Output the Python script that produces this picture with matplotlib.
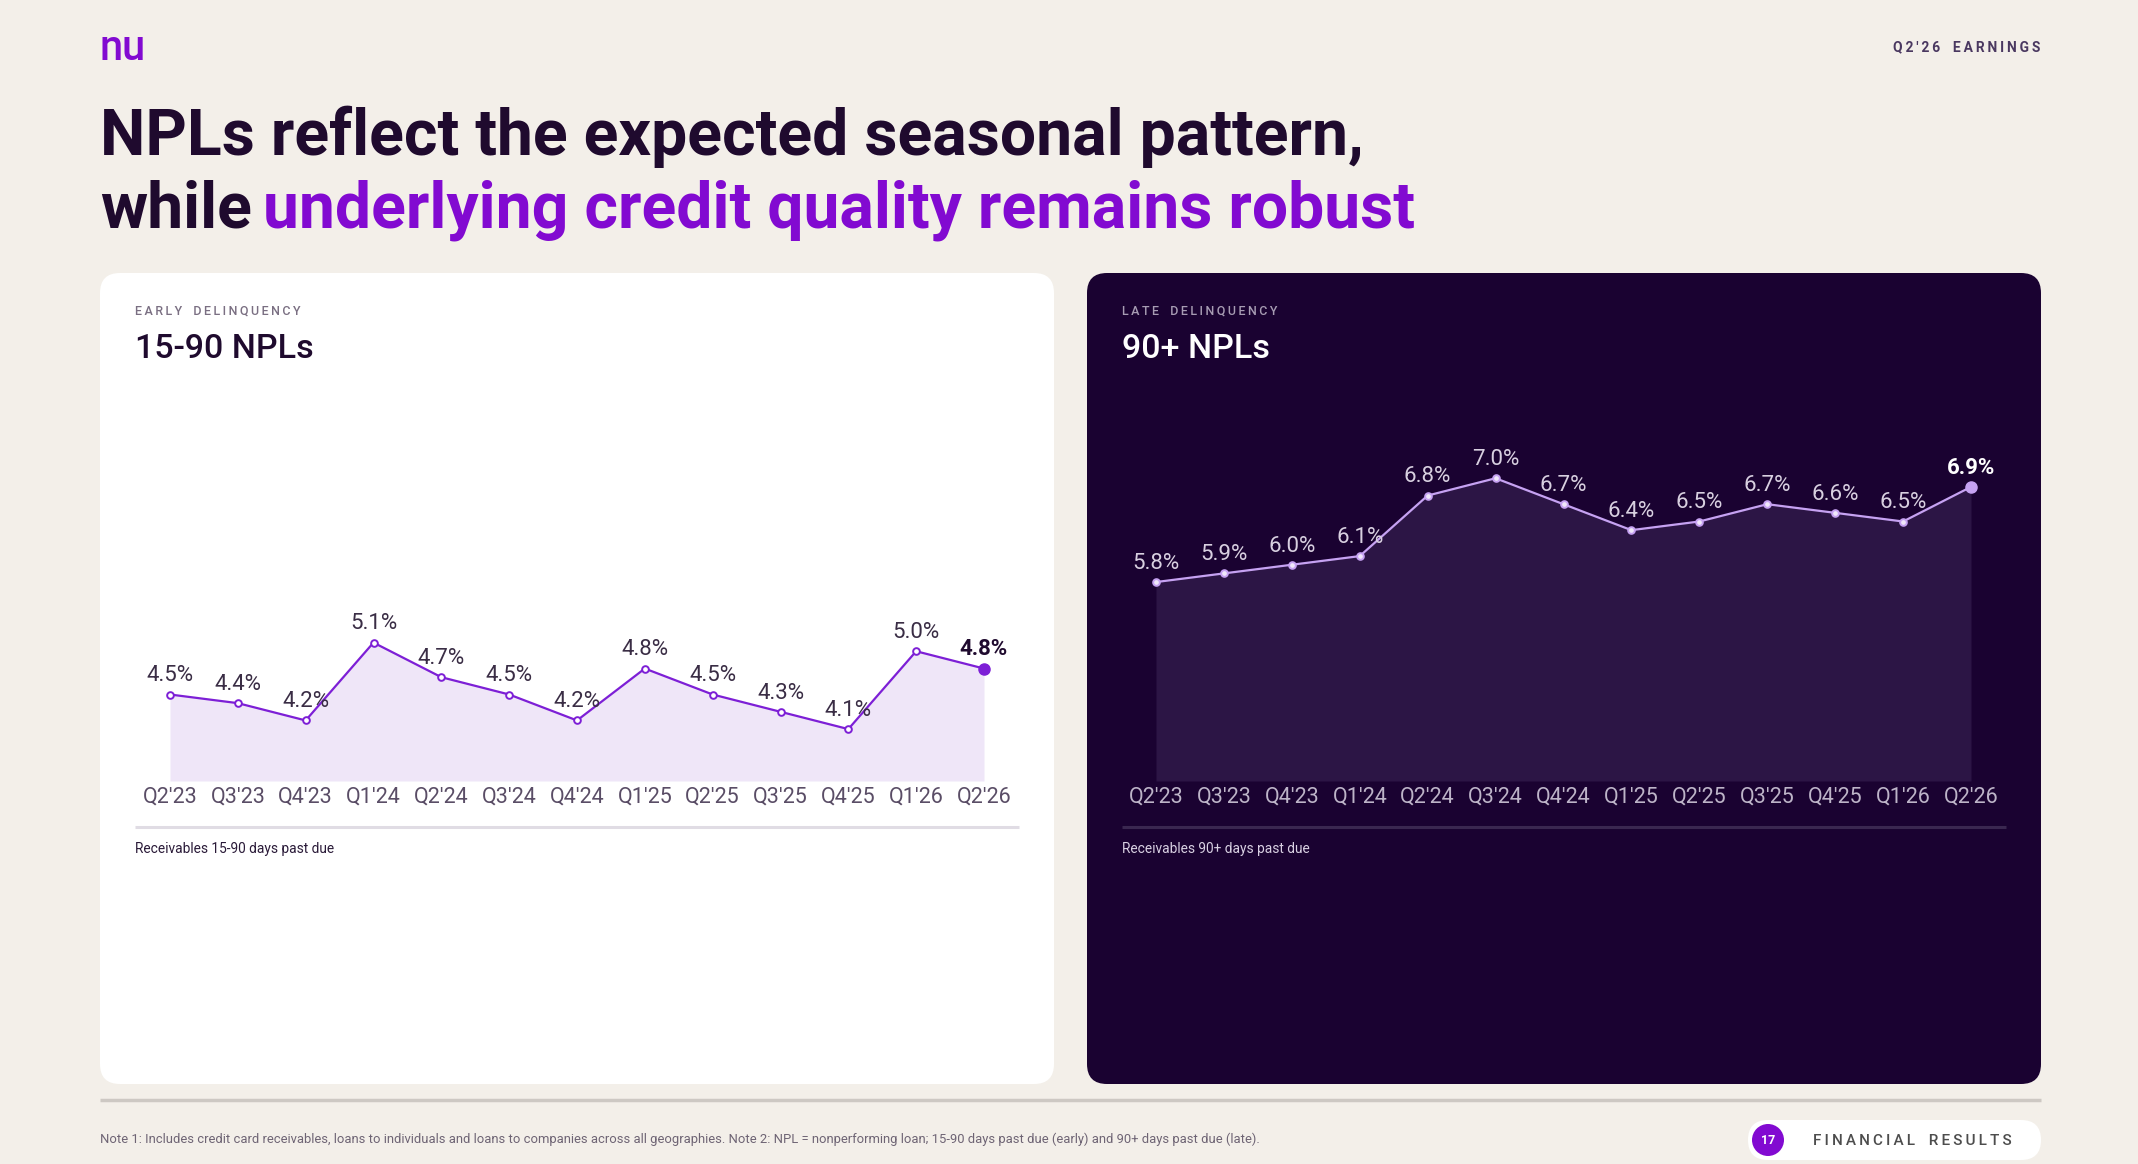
import matplotlib
matplotlib.use("Agg")
import matplotlib.pyplot as plt
from matplotlib.patches import FancyBboxPatch, Circle
import numpy as np

# data
quarters = ["Q2'23", "Q3'23", "Q4'23", "Q1'24", "Q2'24", "Q3'24", "Q4'24",
            "Q1'25", "Q2'25", "Q3'25", "Q4'25", "Q1'26", "Q2'26"]
npl_15_90 = [4.5, 4.4, 4.2, 5.1, 4.7, 4.5, 4.2, 4.8, 4.5, 4.3, 4.1, 5.0, 4.8]
npl_90 = [5.8, 5.9, 6.0, 6.1, 6.8, 7.0, 6.7, 6.4, 6.5, 6.7, 6.6, 6.5, 6.9]

W, H = 2138, 1164
BG = "#f3efe9"
DARK = "#1f0a2e"
PURPLE = "#820ad1"
CARD_DARK = "#1a0231"
FONT = ["Roboto", "DejaVu Sans"]

plt.rcParams["font.family"] = FONT


def spaced(s):
    # fake letter spacing
    return "\u2009".join(s).replace(" ", "  ")


fig = plt.figure(figsize=(W / 100, H / 100), dpi=100)
fig.patch.set_facecolor(BG)

bg = fig.add_axes([0, 0, 1, 1])
bg.set_xlim(0, W)
bg.set_ylim(H, 0)
bg.axis("off")

# header
bg.text(100, 60, "nu", fontsize=30, fontweight="medium", color=PURPLE, va="baseline")
bg.text(2040, 47, spaced("Q2'26 EARNINGS"), fontsize=10, fontweight="bold",
        color="#4a3860", ha="right", va="center")

t1 = bg.text(100, 155, "NPLs reflect the expected seasonal pattern,", fontsize=46.3,
             fontweight="bold", color=DARK, va="baseline")
t2 = bg.text(100, 228, "while", fontsize=46.3, fontweight="bold", color=DARK, va="baseline")
bg.annotate("underlying credit quality remains robust", xy=(1, 0), xycoords=t2,
            xytext=(8, 0), textcoords="offset points", fontsize=46.3,
            fontweight="bold", color=PURPLE, va="bottom", ha="left")

# cards
bg.add_patch(FancyBboxPatch((100, 273), 954, 811, boxstyle="round,pad=0,rounding_size=20",
                            fc="white", ec="none"))
bg.add_patch(FancyBboxPatch((1087, 273), 954, 811, boxstyle="round,pad=0,rounding_size=20",
                            fc=CARD_DARK, ec="none"))

bg.text(135, 311, spaced("EARLY DELINQUENCY"), fontsize=9, fontweight="medium",
        color="#7a6f82", va="center")
bg.text(135, 358, "15-90 NPLs", fontsize=24.5, fontweight="medium", color=DARK, va="baseline")
bg.text(1122, 311, spaced("LATE DELINQUENCY"), fontsize=9, fontweight="medium",
        color="#a79cb3", va="center")
bg.text(1122, 358, "90+ NPLs", fontsize=24.5, fontweight="medium", color="white", va="baseline")

bg.plot([135, 1019], [827, 827], color="#e0dce4", lw=2.2, solid_capstyle="butt")
bg.plot([1122, 2006], [827, 827], color="#3a2750", lw=2.2, solid_capstyle="butt")
bg.text(135, 849, "Receivables 15-90 days past due", fontsize=9.9, color="#2a1a38", va="center")
bg.text(1122, 849, "Receivables 90+ days past due", fontsize=9.9, color="#d8d0e2", va="center")

# footer
bg.plot([100, 2041], [1100, 1100], color="#cdc8c3", lw=2.5, solid_capstyle="butt")
bg.text(100, 1139, "Note 1: Includes credit card receivables, loans to individuals and loans to "
        "companies across all geographies. Note 2: NPL = nonperforming loan; 15-90 days past "
        "due (early) and 90+ days past due (late).", fontsize=9.4, color="#6e6474", va="center")
bg.add_patch(FancyBboxPatch((1748, 1120), 293, 40, boxstyle="round,pad=0,rounding_size=20",
                            fc="white", ec="none"))
bg.add_patch(Circle((1768, 1140), 16, fc=PURPLE, ec="none"))
bg.text(1768, 1141, "17", fontsize=9, fontweight="bold", color="white", ha="center", va="center")
bg.text(1813, 1141, spaced("FINANCIAL RESULTS"), fontsize=11, fontweight="medium",
        color="#4d4d4d", va="center")


def chart(left, right, vals, line_c, fill_c, lab_c, last_c, tick_c, mface):
    ax = fig.add_axes([left / W, (H - 781) / H, (right - left) / W, 346 / H])
    ax.patch.set_visible(False)
    x = np.arange(len(vals))
    ax.fill_between(x, vals, 3.5, color=fill_c, lw=0, zorder=1)
    ax.plot(x, vals, color=line_c, lw=1.6, zorder=2, clip_on=False)
    ax.plot(x[:-1], vals[:-1], "o", ms=4.8, mfc=mface, mec=line_c, mew=1.4,
            zorder=3, clip_on=False)
    ax.plot(x[-1:], vals[-1:], "o", ms=8, mfc=line_c, mec=line_c, zorder=3, clip_on=False)
    for i, v in enumerate(vals):
        last = i == len(vals) - 1
        ax.annotate(f"{v:.1f}%", (i, v), xytext=(0, 9.5), textcoords="offset points",
                    ha="center", va="baseline", fontsize=16,
                    fontweight="bold" if last else "normal",
                    color=last_c if last else lab_c, annotation_clip=False, zorder=4)
    ax.set_xlim(0, len(vals) - 1)
    ax.set_ylim(3.5, 7.5)
    ax.set_xticks(x)
    ax.set_xticklabels(quarters, fontsize=15.5, color=tick_c)
    ax.tick_params(axis="x", length=0, pad=4)
    ax.set_yticks([])
    for s in ax.spines.values():
        s.set_visible(False)
    return ax


chart(170, 984, npl_15_90, "#7d1fd6", "#efe6f8", "#3a2d45", DARK, "#5a4d66", "white")
chart(1156, 1971, npl_90, "#c6a2f2", "#2c1545", "#d8d0e0", "white", "#bdb4c8", "#f0e8fa")

fig.savefig("out.png", dpi=100, facecolor=BG)
